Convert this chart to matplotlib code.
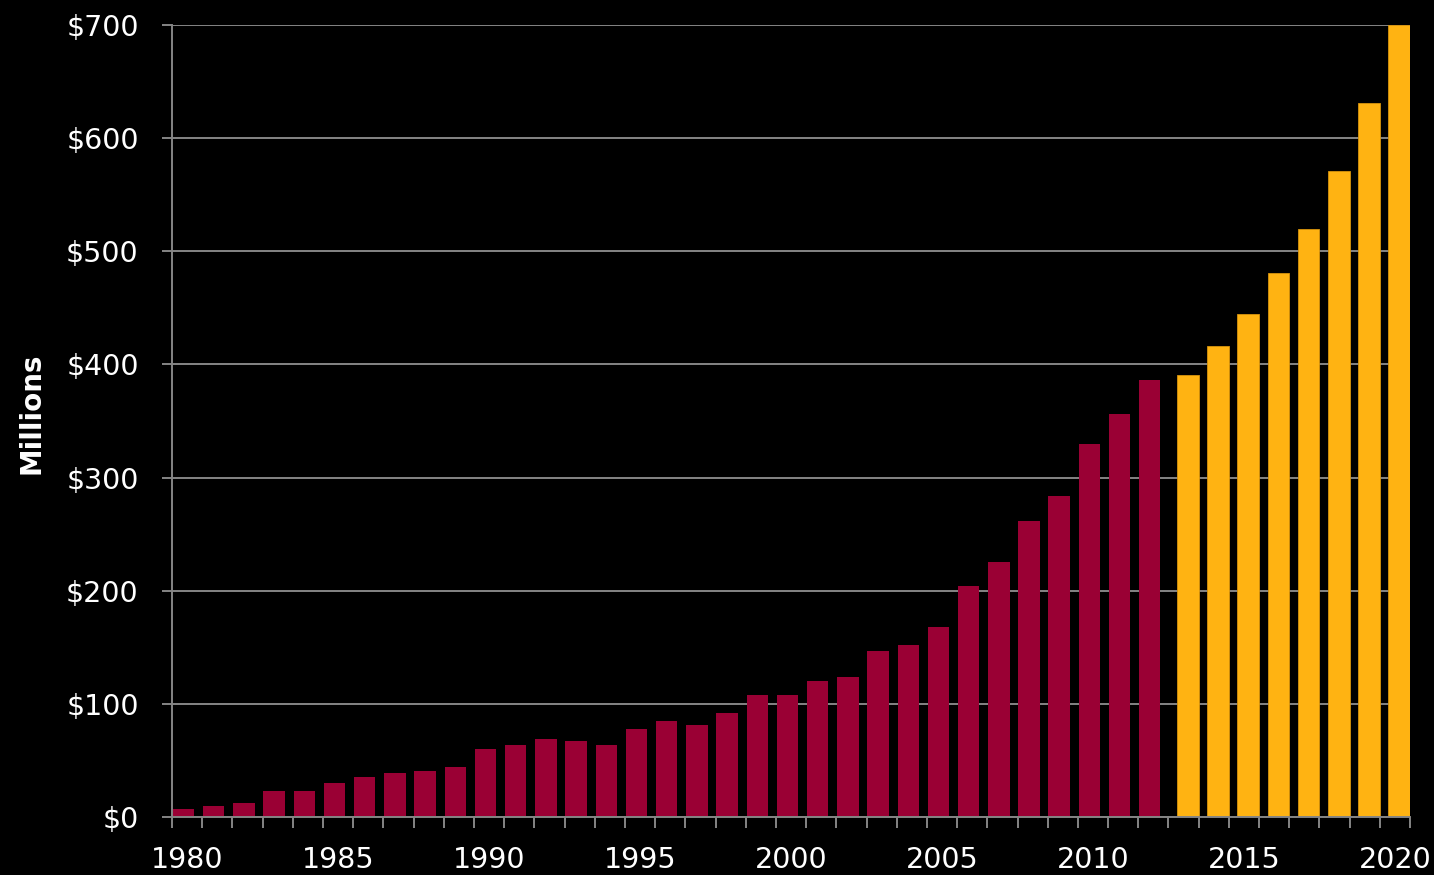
import matplotlib
matplotlib.use("Agg")
import matplotlib.pyplot as plt
import numpy as np
from matplotlib.ticker import FuncFormatter

# Annual values in millions of dollars
hist_years = list(range(1980, 2013))
hist_values = [7, 10, 12, 23, 23, 30, 35, 39, 41, 44,
               60, 64, 69, 67, 64, 78, 85, 81, 92, 108,
               108, 120, 124, 147, 152, 168, 204, 225, 262, 284,
               330, 356, 386]
proj_years = list(range(2013, 2021))
proj_values = [391, 416, 445, 481, 520, 571, 631, 700]

year_labels = [1980, 1985, 1990, 1995, 2000, 2005, 2010, 2015, 2020]
y_ticks = [0, 100, 200, 300, 400, 500, 600, 700]

RED = "#9a0034"
GOLD = "#ffb312"
GRID = "#858585"

plt.rcParams["font.family"] = ["DejaVu Sans"]

fig = plt.figure(figsize=(14.34, 8.75), dpi=100, facecolor="black")
ax = fig.add_axes([0.12, 0.0663, 0.8633, 0.9051])
ax.set_facecolor("black")

first = hist_years[0]
xh = np.array(hist_years) - first
xp = np.array(proj_years) - first

ax.bar(xh - 0.12, hist_values, width=0.71, color=RED, zorder=3)
ax.bar(xp + 0.14, proj_values, width=0.72, color=GOLD,
       edgecolor="#d8940c", linewidth=0.6, zorder=3)

n = len(hist_years) + len(proj_years)
ax.set_xlim(-0.5, n - 0.5)
ax.set_ylim(0, 700)

# horizontal gridlines
ax.set_yticks(y_ticks)
ax.yaxis.set_major_formatter(FuncFormatter(lambda v, p: f"${v:.0f}"))
ax.grid(axis="y", color=GRID, linewidth=1.4, zorder=1)

# category boundary ticks on x, labels every five years at centres
ax.set_xticks(np.arange(-0.5, n, 1.0))
ax.set_xticklabels([])
ax.set_xticks([y - first for y in year_labels], minor=True)
ax.set_xticklabels([str(y) for y in year_labels], minor=True)
ax.tick_params(axis="x", which="major", length=8, width=1.4, color=GRID)
ax.tick_params(axis="x", which="minor", length=0, pad=21,
               labelsize=20.5, labelcolor="white")
ax.tick_params(axis="y", length=7, width=1.4, color=GRID, pad=17,
               labelsize=20.5, labelcolor="white")

for side in ("top", "right"):
    ax.spines[side].set_visible(False)
for side in ("left", "bottom"):
    ax.spines[side].set_color(GRID)
    ax.spines[side].set_linewidth(1.4)
    ax.spines[side].set_zorder(4)

fig.text(31 / 1434, 1 - 413 / 875, "Millions", rotation=90, color="white",
         fontsize=20, fontweight="bold", ha="center", va="center")

fig.savefig("out.png", dpi=100, facecolor="black")
